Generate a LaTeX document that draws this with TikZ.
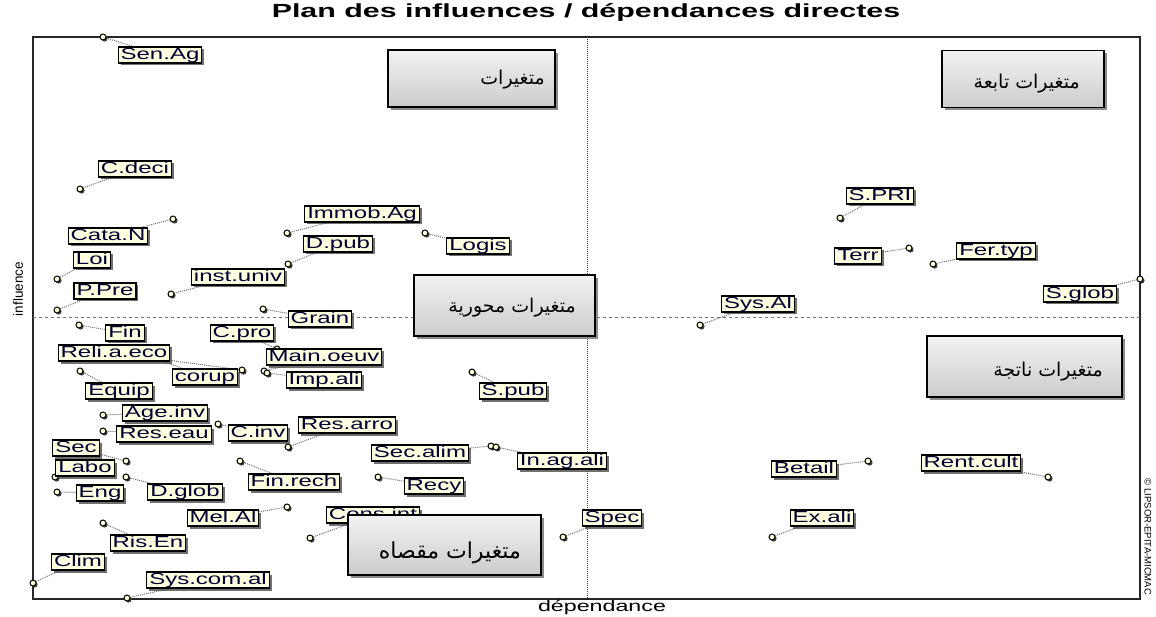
\documentclass[tikz,border=0pt]{standalone}
\usepackage{fontspec}
\usetikzlibrary{shadows,backgrounds,positioning}
\newfontfamily\lblfont[FakeStretch=1.5]{Liberation Sans}
\newfontfamily\titlefont[FakeStretch=1.6]{Liberation Sans}
\newfontfamily\axfont{Liberation Sans}
\newfontfamily\arabicfont[Script=Arabic]{DejaVu Sans}
\TeXXeTstate=1

\begin{document}
\begin{tikzpicture}[x=1pt, y=-1pt,
    varpt/.style={circle, draw=black, line width=1pt, fill=yellow!15, minimum size=6pt, inner sep=0pt,
        drop shadow={shadow xshift=1.6pt, shadow yshift=-1.6pt, fill=black!75, opacity=1}},
    varlbl/.style={draw=black, line width=1.2pt, fill=yellow!12, text=blue!20!black,
        font=\lblfont\fontsize{16}{16}\selectfont, inner xsep=2.5pt, inner ysep=0.5pt,
        text height=11.6pt, text depth=3.4pt,
        drop shadow={shadow xshift=2.5pt, shadow yshift=-2.5pt, fill=black!70, opacity=0.8}},
    leader/.style={densely dotted, black!55, line width=1pt},
    qbox/.style={draw=black, line width=1.6pt, top color=gray!10, bottom color=gray!40, inner sep=0pt,
        drop shadow={shadow xshift=3pt, shadow yshift=-3pt, fill=black!45, opacity=1}},
    qtext/.style={font=\arabicfont\fontsize{19}{22}\selectfont, inner sep=0pt}]

    \useasboundingbox (0,0) rectangle (1156,617);

    \node[font=\titlefont\bfseries\fontsize{19}{19}\selectfont] (title) at (586,13) {Plan des influences / dépendances directes};

    % frame and axes
    \draw[line width=1.2pt, black!85] (33,37) rectangle (1140,599);
    \draw[dashed, black!55, line width=0.8pt] (33,317) -- (1140,317);
    \draw[densely dotted, black!75, line width=1pt] (587,37) -- (587,599);

    \node[font=\lblfont\fontsize{15.5}{15.5}\selectfont] (xlab) at (602,607) {dépendance};
    \node[font=\axfont\fontsize{13.5}{13.5}\selectfont, rotate=90] (ylab) at (18,289) {influence};
    \node[font=\axfont\fontsize{9.5}{9.5}\selectfont, rotate=-90] (copyr) at (1148,537) {© LIPSOR-EPITA-MICMAC};

    % points
    \node[varpt] (pSenAg) at (103,37) {};
    \node[varpt] (pCdeci) at (80,189) {};
    \node[varpt] (pCataN) at (173,219) {};
    \node[varpt] (pLoi) at (57,279) {};
    \node[varpt] (pPPre) at (57,310) {};
    \node[varpt] (pInstUniv) at (171,294) {};
    \node[varpt] (pImmobAg) at (287,233) {};
    \node[varpt] (pDpub) at (288,264) {};
    \node[varpt] (pLogis) at (425,233) {};
    \node[varpt] (pGrain) at (263,309) {};
    \node[varpt] (pFin) at (79,325) {};
    \node[varpt] (pCpro) at (277,349) {};
    \node[varpt] (pCorup) at (149,356) {};
    \node[varpt] (pReli) at (242,370) {};
    \node[varpt] (pMainOeuv) at (264,371) {};
    \node[varpt] (pImpAli) at (267,373) {};
    \node[varpt] (pEquip) at (80,371) {};
    \node[varpt] (pAgeInv) at (103,415) {};
    \node[varpt] (pResEau) at (103,431) {};
    \node[varpt] (pCinv) at (218,424) {};
    \node[varpt] (pResArro) at (288,447) {};
    \node[varpt] (pSec) at (126,461) {};
    \node[varpt] (pLabo) at (55,477) {};
    \node[varpt] (pEng) at (57,492) {};
    \node[varpt] (pDglob) at (126,477) {};
    \node[varpt] (pFinRech) at (240,461) {};
    \node[varpt] (pMelAl) at (287,507) {};
    \node[varpt] (pConsInt) at (310,538) {};
    \node[varpt] (pRisEn) at (103,523) {};
    \node[varpt] (pClim) at (33,583) {};
    \node[varpt] (pSysComAl) at (127,598) {};
    \node[varpt] (pSpub) at (472,372) {};
    \node[varpt] (pSecAlim) at (491,446) {};
    \node[varpt] (pInAgAli) at (496,447) {};
    \node[varpt] (pRecy) at (378,477) {};
    \node[varpt] (pSpec) at (563,537) {};
    \node[varpt] (pSPRI) at (840,218) {};
    \node[varpt] (pTerr) at (909,248) {};
    \node[varpt] (pFerTyp) at (933,264) {};
    \node[varpt] (pSglob) at (1140,279) {};
    \node[varpt] (pSysAl) at (700,325) {};
    \node[varpt] (pBetail) at (868,461) {};
    \node[varpt] (pRentCult) at (1048,477) {};
    \node[varpt] (pExAli) at (772,537) {};

    % labels
    \node[varlbl] (SenAg) at (160,55) {Sen.Ag};
    \node[varlbl] (Cdeci) at (135,169) {C.deci};
    \node[varlbl] (CataN) at (108,236) {Cata.N};
    \node[varlbl] (Loi) at (92,260) {Loi};
    \node[varlbl] (PPre) at (105,291) {P.Pre};
    \node[varlbl] (InstUniv) at (238,277) {inst.univ};
    \node[varlbl] (ImmobAg) at (362,214) {Immob.Ag};
    \node[varlbl] (Dpub) at (338,244) {D.pub};
    \node[varlbl] (Logis) at (478,246) {Logis};
    \node[varlbl] (Grain) at (320,319) {Grain};
    \node[varlbl] (Fin) at (125,333) {Fin};
    \node[varlbl] (Cpro) at (242,333) {C.pro};
    \node[varlbl] (Reli) at (114,353) {Reli.a.eco};
    \node[varlbl] (Corup) at (205,377) {corup};
    \node[varlbl] (MainOeuv) at (324,357) {Main.oeuv};
    \node[varlbl] (ImpAli) at (324,380) {Imp.ali};
    \node[varlbl] (Equip) at (119,391) {Equip};
    \node[varlbl] (AgeInv) at (165,413) {Age.inv};
    \node[varlbl] (ResEau) at (164,434) {Res.eau};
    \node[varlbl] (Cinv) at (258,433) {C.inv};
    \node[varlbl] (ResArro) at (347,425) {Res.arro};
    \node[varlbl] (Sec) at (76,448) {Sec};
    \node[varlbl] (Labo) at (85,468) {Labo};
    \node[varlbl] (Eng) at (100,493) {Eng};
    \node[varlbl] (Dglob) at (185,492) {D.glob};
    \node[varlbl] (FinRech) at (294,482) {Fin.rech};
    \node[varlbl] (MelAl) at (223,518) {Mel.Al};
    \node[varlbl] (ConsInt) at (373,515) {Cons.int};
    \node[varlbl] (RisEn) at (148,543) {Ris.En};
    \node[varlbl] (Clim) at (78,562) {Clim};
    \node[varlbl] (SysComAl) at (208,580) {Sys.com.al};
    \node[varlbl] (Spub) at (513,391) {S.pub};
    \node[varlbl] (SecAlim) at (420,453) {Sec.alim};
    \node[varlbl] (InAgAli) at (562,461) {In.ag.ali};
    \node[varlbl] (Recy) at (434,486) {Recy};
    \node[varlbl] (Spec) at (612,518) {Spec};
    \node[varlbl] (SPRI) at (880,196) {S.PRI};
    \node[varlbl] (Terr) at (858,256) {Terr};
    \node[varlbl] (FerTyp) at (996,251) {Fer.typ};
    \node[varlbl] (Sglob) at (1080,294) {S.glob};
    \node[varlbl] (SysAl) at (758,304) {Sys.Al};
    \node[varlbl] (Betail) at (804,469) {Betail};
    \node[varlbl] (RentCult) at (971,463) {Rent.cult};
    \node[varlbl] (ExAli) at (822,518) {Ex.ali};

    % leaders
    \begin{scope}[on background layer]
    \draw[leader] (pSenAg) -- (SenAg);
    \draw[leader] (pCdeci) -- (Cdeci);
    \draw[leader] (pCataN) -- (CataN);
    \draw[leader] (pLoi) -- (Loi);
    \draw[leader] (pPPre) -- (PPre);
    \draw[leader] (pInstUniv) -- (InstUniv);
    \draw[leader] (pImmobAg) -- (ImmobAg);
    \draw[leader] (pDpub) -- (Dpub);
    \draw[leader] (pLogis) -- (Logis);
    \draw[leader] (pGrain) -- (Grain);
    \draw[leader] (pFin) -- (Fin);
    \draw[leader] (pCpro) -- (Cpro);
    \draw[leader] (pCorup) -- (Corup);
    \draw[leader] (pReli) -- (Reli);
    \draw[leader] (pMainOeuv) -- (MainOeuv);
    \draw[leader] (pImpAli) -- (ImpAli);
    \draw[leader] (pEquip) -- (Equip);
    \draw[leader] (pAgeInv) -- (AgeInv);
    \draw[leader] (pResEau) -- (ResEau);
    \draw[leader] (pCinv) -- (Cinv);
    \draw[leader] (pResArro) -- (ResArro);
    \draw[leader] (pSec) -- (Sec);
    \draw[leader] (pLabo) -- (Labo);
    \draw[leader] (pEng) -- (Eng);
    \draw[leader] (pDglob) -- (Dglob);
    \draw[leader] (pFinRech) -- (FinRech);
    \draw[leader] (pMelAl) -- (MelAl);
    \draw[leader] (pConsInt) -- (ConsInt);
    \draw[leader] (pRisEn) -- (RisEn);
    \draw[leader] (pClim) -- (Clim);
    \draw[leader] (pSysComAl) -- (SysComAl);
    \draw[leader] (pSpub) -- (Spub);
    \draw[leader] (pSecAlim) -- (SecAlim);
    \draw[leader] (pInAgAli) -- (InAgAli);
    \draw[leader] (pRecy) -- (Recy);
    \draw[leader] (pSpec) -- (Spec);
    \draw[leader] (pSPRI) -- (SPRI);
    \draw[leader] (pTerr) -- (Terr);
    \draw[leader] (pFerTyp) -- (FerTyp);
    \draw[leader] (pSglob) -- (Sglob);
    \draw[leader] (pSysAl) -- (SysAl);
    \draw[leader] (pBetail) -- (Betail);
    \draw[leader] (pRentCult) -- (RentCult);
    \draw[leader] (pExAli) -- (ExAli);
    \end{scope}

    % quadrant boxes
    \node[qbox, minimum width=167pt, minimum height=57pt] (qOne) at (471.5,78.5) {};
    \node[qtext, anchor=east] (qOneTxt) at (545,80) {\beginR متغيرات\endR};
    \node[qbox, minimum width=162pt, minimum height=57pt] (qTwo) at (1023,79) {};
    \node[qtext, anchor=east] (qTwoTxt) at (1080,84) {\beginR متغيرات تابعة\endR};
    \node[qbox, minimum width=181pt, minimum height=61pt] (qThree) at (504.5,305.5) {};
    \node[qtext, anchor=east] (qThreeTxt) at (576,308) {\beginR متغيرات محورية\endR};
    \node[qbox, minimum width=195pt, minimum height=61pt] (qFour) at (1024.5,366.5) {};
    \node[qtext, anchor=east] (qFourTxt) at (1103,372) {\beginR متغيرات ناتجة\endR};
    \node[qbox, minimum width=193pt, minimum height=60pt] (qFive) at (444.5,545) {};
    \node[qtext, anchor=east, font=\arabicfont\fontsize{22}{26}\selectfont] (qFiveTxt) at (521,553) {\beginR متغيرات مقصاه\endR};

\end{tikzpicture}
\end{document}
